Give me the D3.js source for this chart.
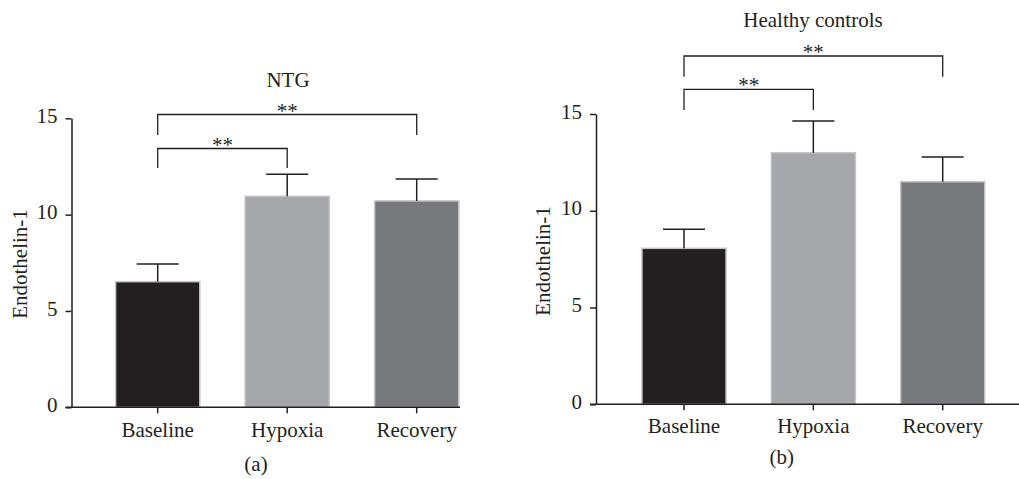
<!DOCTYPE html>
<html>
<head>
<meta charset="utf-8">
<script src="https://cdn.jsdelivr.net/npm/d3@7"></script>
<style>
  html, body { margin: 0; padding: 0; background: #fff; }
  svg { display: block; }
  text { font-family: "Liberation Serif", "DejaVu Serif", serif; fill: #231f20; }
</style>
</head>
<body>
<svg id="chart" width="1019" height="479"></svg>
<script>
// ---- data ----
const categories = ["Baseline", "Hypoxia", "Recovery"];
const ntgMeans = [6.52, 10.95, 10.71];
const ntgErrors = [0.92, 1.14, 1.14];
const controlMeans = [8.06, 13.0, 11.5];
const controlErrors = [0.98, 1.64, 1.28];
const yTicks = [0, 5, 10, 15];
const comparisons = [["Baseline", "Hypoxia"], ["Baseline", "Recovery"]];
const comparisonLabels = ["**", "**"];
const panelTitles = ["NTG", "Healthy controls"];
const panelLetters = ["(a)", "(b)"];
const yLabel = "Endothelin-1";
const barColors = ["#231f20", "#a6a7aa", "#78797c"];

// ---- layout ----
const svg = d3.select("#chart");
const ink = "#231f20";
const fs = 21;

const panels = [
  {
    means: ntgMeans, errs: ntgErrors, title: panelTitles[0], letter: panelLetters[0],
    axisX: 71.5, y0: 407.3, y15: 118.3, c0: 157.7, c2: 416.7, axisEnd: 460,
    titleX: 288, titleY: 86.7, letterX: 256, letterY: 471, tickLabelY: 437,
    yLabelX: 27, yLabelY: 264,
    brackets: [ {top: 148.5, leg: 168}, {top: 114.5, leg: 135} ]
  },
  {
    means: controlMeans, errs: controlErrors, title: panelTitles[1], letter: panelLetters[1],
    axisX: 596, y0: 404.3, y15: 114, c0: 684, c2: 942.7, axisEnd: 1019,
    titleX: 813, titleY: 26.7, letterX: 781.7, letterY: 464, tickLabelY: 433.5,
    yLabelX: 550, yLabelY: 261,
    brackets: [ {top: 89.3, leg: 110}, {top: 56, leg: 76.7} ]
  }
];

panels.forEach(p => {
  const g = svg.append("g");
  const step = (p.c2 - p.c0) / 2;
  const x = d3.scaleBand().domain(categories)
    .range([p.c0 - step / 2, p.c2 + step / 2])
    .paddingInner(0.35).paddingOuter(0.175);
  const y = d3.scaleLinear().domain([0, 15]).range([p.y0, p.y15]);
  const bw = x.bandwidth();

  // bars
  g.selectAll("rect.bar").data(categories).join("rect")
    .attr("class", "bar")
    .attr("x", d => x(d))
    .attr("y", (d, i) => y(p.means[i]))
    .attr("width", bw)
    .attr("height", (d, i) => y(0) - y(p.means[i]))
    .attr("fill", (d, i) => barColors[i])
    .attr("stroke", "#c4c4c6")
    .attr("stroke-width", 1.5);

  // error bars (upper only)
  const eg = g.selectAll("g.err").data(categories).join("g").attr("class", "err");
  eg.append("line")
    .attr("x1", d => x(d) + bw / 2).attr("x2", d => x(d) + bw / 2)
    .attr("y1", (d, i) => y(p.means[i]))
    .attr("y2", (d, i) => y(p.means[i] + p.errs[i]))
    .attr("stroke", ink).attr("stroke-width", 1.5);
  eg.append("line")
    .attr("x1", d => x(d) + bw / 2 - bw * 0.25).attr("x2", d => x(d) + bw / 2 + bw * 0.25)
    .attr("y1", (d, i) => y(p.means[i] + p.errs[i]))
    .attr("y2", (d, i) => y(p.means[i] + p.errs[i]))
    .attr("stroke", ink).attr("stroke-width", 1.5);

  // y axis
  const yAxis = d3.axisLeft(y).tickValues(yTicks).tickSize(6).tickPadding(8).tickSizeOuter(0);
  const ya = g.append("g").attr("transform", `translate(${p.axisX},0)`).call(yAxis);
  ya.select(".domain").attr("stroke", ink).attr("stroke-width", 1.5);
  ya.selectAll(".tick line").attr("stroke", ink).attr("stroke-width", 1.5);
  ya.selectAll(".tick text").attr("font-size", fs)
    .attr("font-family", "Liberation Serif").attr("fill", ink).attr("dy", "0.2em");

  // x axis
  const xAxis = d3.axisBottom(x).tickSize(6).tickSizeOuter(0).tickPadding(0);
  const xa = g.append("g").attr("transform", `translate(0,${p.y0})`).call(xAxis);
  xa.select(".domain").remove();
  xa.selectAll(".tick line").attr("stroke", ink).attr("stroke-width", 1.5);
  xa.selectAll(".tick text").attr("font-size", fs)
    .attr("font-family", "Liberation Serif").attr("fill", ink)
    .attr("dy", null).attr("y", p.tickLabelY - p.y0);
  g.append("line")
    .attr("x1", p.axisX - 6).attr("x2", p.axisEnd)
    .attr("y1", p.y0).attr("y2", p.y0)
    .attr("stroke", ink).attr("stroke-width", 1.5);

  // y label
  g.append("text")
    .attr("transform", `translate(${p.yLabelX},${p.yLabelY}) rotate(-90)`)
    .attr("text-anchor", "middle").attr("font-size", fs).text(yLabel);

  // title & letter
  g.append("text").attr("x", p.titleX).attr("y", p.titleY)
    .attr("text-anchor", "middle").attr("font-size", fs).text(p.title);
  g.append("text").attr("x", p.letterX).attr("y", p.letterY)
    .attr("text-anchor", "middle").attr("font-size", fs).text(p.letter);

  // significance brackets
  comparisons.forEach((c, i) => {
    const b = p.brackets[i];
    const xa1 = x(c[0]) + bw / 2, xa2 = x(c[1]) + bw / 2;
    g.append("path")
      .attr("d", `M${xa1},${b.leg}V${b.top}H${xa2}V${b.leg}`)
      .attr("fill", "none").attr("stroke", ink).attr("stroke-width", 1.3);
    g.append("text").attr("x", (xa1 + xa2) / 2).attr("y", b.top + 3)
      .attr("text-anchor", "middle").attr("font-size", 21).text(comparisonLabels[i]);
  });
});
</script>
</body>
</html>
